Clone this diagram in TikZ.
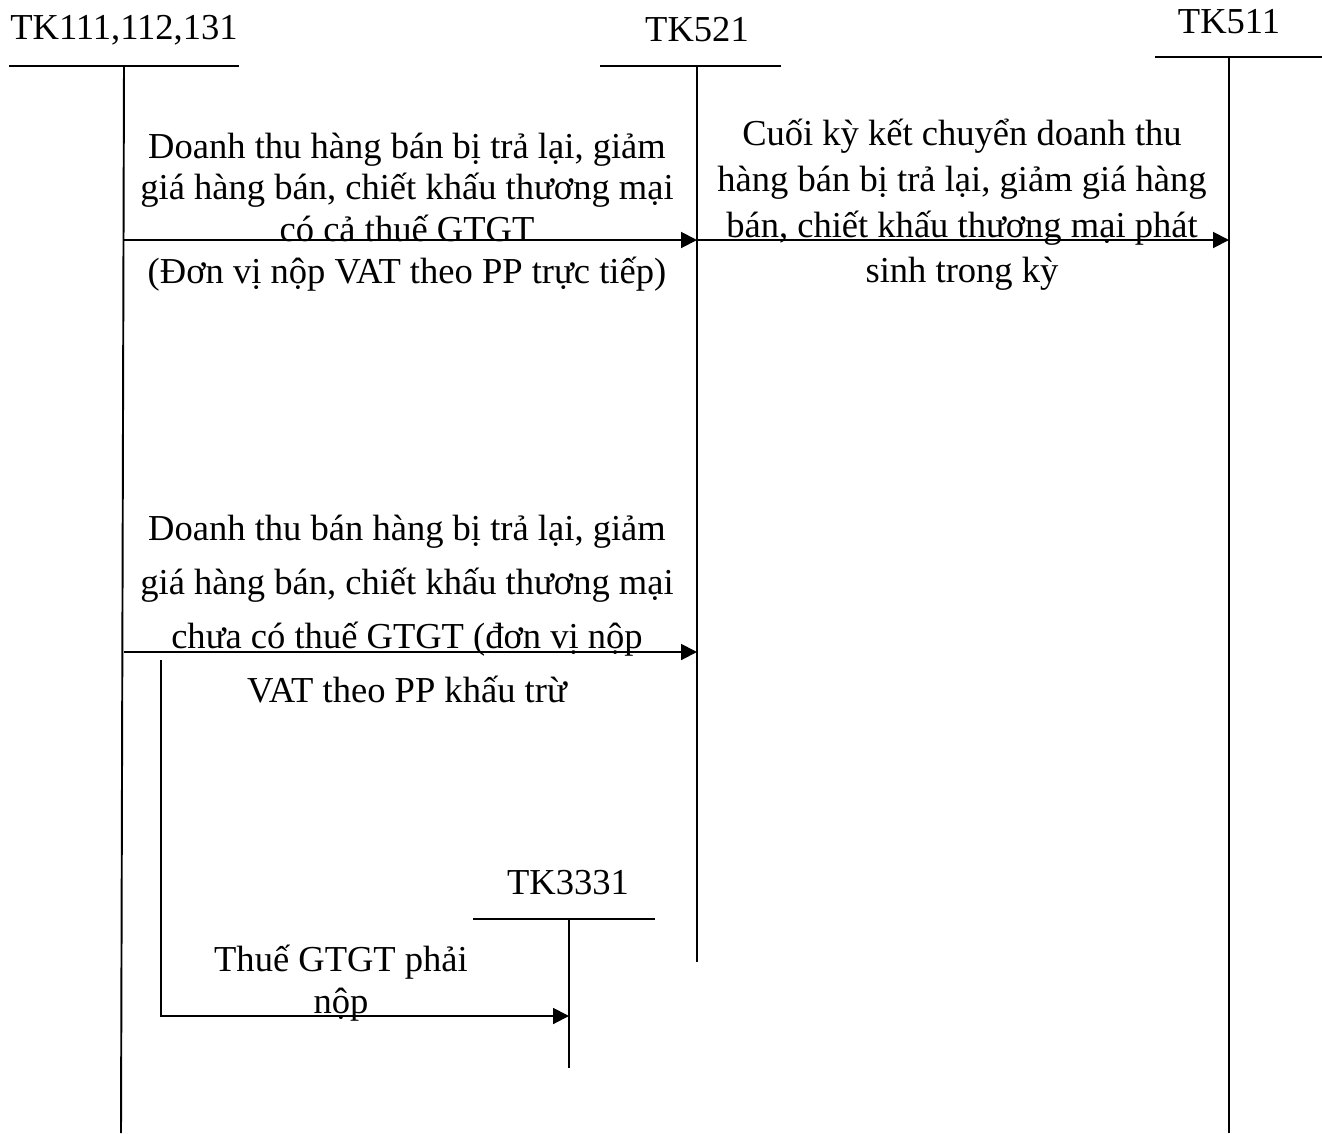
\documentclass[tikz,border=0pt]{standalone}
\usepackage{fontspec}
\setmainfont{Liberation Serif}
\usetikzlibrary{arrows.meta,calc,positioning}

\begin{document}
\begin{tikzpicture}[x=0.02cm,y=-0.02cm,line width=1.1pt,
  >={Triangle[length=9pt,width=9pt]},
  every node/.style={font=\fontsize{20.8}{24}\selectfont,inner sep=0pt},
  txt/.style={align=center}]
\useasboundingbox (0,0) rectangle (1322,1133);
% T-accounts
\draw (9,66) -- (239,66);
\draw (124,66) coordinate (v111) -- (121,1133);
\node (l111) at (124,30) {TK111,112,131};
\draw (600,66) -- (781,66);
\draw (697,66) coordinate (v521) -- (697,962);
\node (l521) at (697,30) {TK521};
\draw (1155,57) -- (1322,57);
\draw (1229,57) coordinate (v511) -- (1229,1133);
\node (l511) at (1229,22) {TK511};
\draw (473,919) -- (655,919);
\draw (569,919) coordinate (v3331) -- (569,1068);
\node (l3331) at (568,883) {TK3331};
% rows
\coordinate (r1) at (0,240);
\coordinate (r3) at (0,652);
\coordinate (r4) at (0,1016);
\coordinate (tax) at (161,660);
\draw[->] (v111 |- r1) -- (v521 |- r1);
\draw[->] (v521 |- r1) -- (v511 |- r1);
\draw[->] (v111 |- r3) -- (v521 |- r3);
\draw[->] (tax) -- (tax |- r4) -- (v3331 |- r4);
% texts
\node[txt,font=\fontsize{20.8}{23.8}\selectfont] (t1) at (407,212)
  {Doanh thu hàng bán bị trả lại, giảm\\giá hàng bán, chiết khấu thương mại\\có cả thuế GTGT\\(Đơn vị nộp VAT theo PP trực tiếp)};
\node[txt,font=\fontsize{20.8}{26}\selectfont] (t2) at (962,205)
  {Cuối kỳ kết chuyển doanh thu\\hàng bán bị trả lại, giảm giá hàng\\bán, chiết khấu thương mại phát\\sinh trong kỳ};
\node[txt,font=\fontsize{20.8}{30.6}\selectfont] (t3) at (407,609)
  {Doanh thu bán hàng bị trả lại, giảm\\giá hàng bán, chiết khấu thương mại\\chưa có thuế GTGT (đơn vị nộp\\VAT theo PP khấu trừ};
\node[txt,font=\fontsize{20.8}{23.8}\selectfont] (t4) at (341,983)
  {Thuế GTGT phải\\nộp};
\end{tikzpicture}
\end{document}
